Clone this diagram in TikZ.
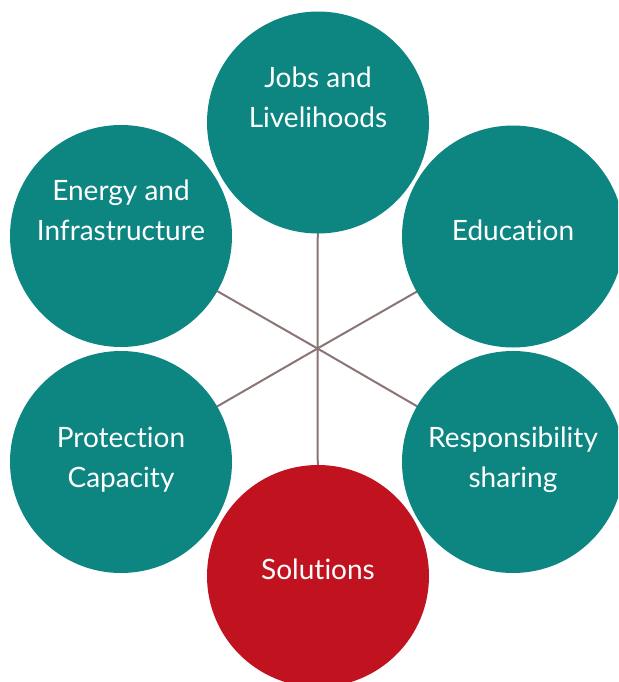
\documentclass[tikz,border=0pt]{standalone}
\usepackage{fontspec}
\setmainfont{Lato}[RawFeature={-liga;-dlig;-calt;-clig}]
\usetikzlibrary{backgrounds}
\definecolor{tealc}{HTML}{0D8581}
\definecolor{redc}{HTML}{C0131F}
\definecolor{linec}{HTML}{8B7474}
\newcommand{\nolg}{\kern0pt}
\begin{document}
\begin{tikzpicture}[x=0.75pt,y=-0.75pt,
  bubble/.style={circle,minimum size=166.5pt,inner sep=0pt,fill=tealc},
  redbubble/.style={bubble,fill=redc},
  lbl/.style={anchor=base,inner sep=0pt,text=white,font=\fontsize{21}{30}\selectfont},
  spoke/.style={draw=linec,line width=1.5pt}]
\useasboundingbox (0,0) rectangle (618,682);
\begin{scope}
\clip (0,0) rectangle (618,682);
\coordinate (c) at (317.5,348.5);
\node[bubble] (jobs) at (318,122.5) {};
\node[bubble] (energy) at (121,236) {};
\node[bubble] (edu) at (513,236.5) {};
\node[bubble] (prot) at (121,462) {};
\node[bubble] (resp) at (513,462) {};
\node[redbubble] (sol) at (318,576) {};
\begin{scope}[on background layer]
\foreach \p in {jobs,energy,edu,prot,resp,sol} \draw[spoke] (c) -- (\p.center);
\end{scope}
\node[lbl] (jobs1) at (318,87) {Jobs and};
\node[lbl] (jobs2) at (318,127) {Livelihoods};
\node[lbl] (energy1) at (121,200.5) {Energy and};
\node[lbl] (energy2) at (121,240) {Infrastructure};
\node[lbl] (edu1) at (513,240) {Educat\nolg ion};
\node[lbl] (prot1) at (121,447) {Protect\nolg ion};
\node[lbl] (prot2) at (121,487) {Capacity};
\node[lbl] (resp1) at (513,447) {Responsibility};
\node[lbl] (resp2) at (513,487) {sharing};
\node[lbl] (sol1) at (318,579) {Solut\nolg ions};
\end{scope}
\end{tikzpicture}
\end{document}
